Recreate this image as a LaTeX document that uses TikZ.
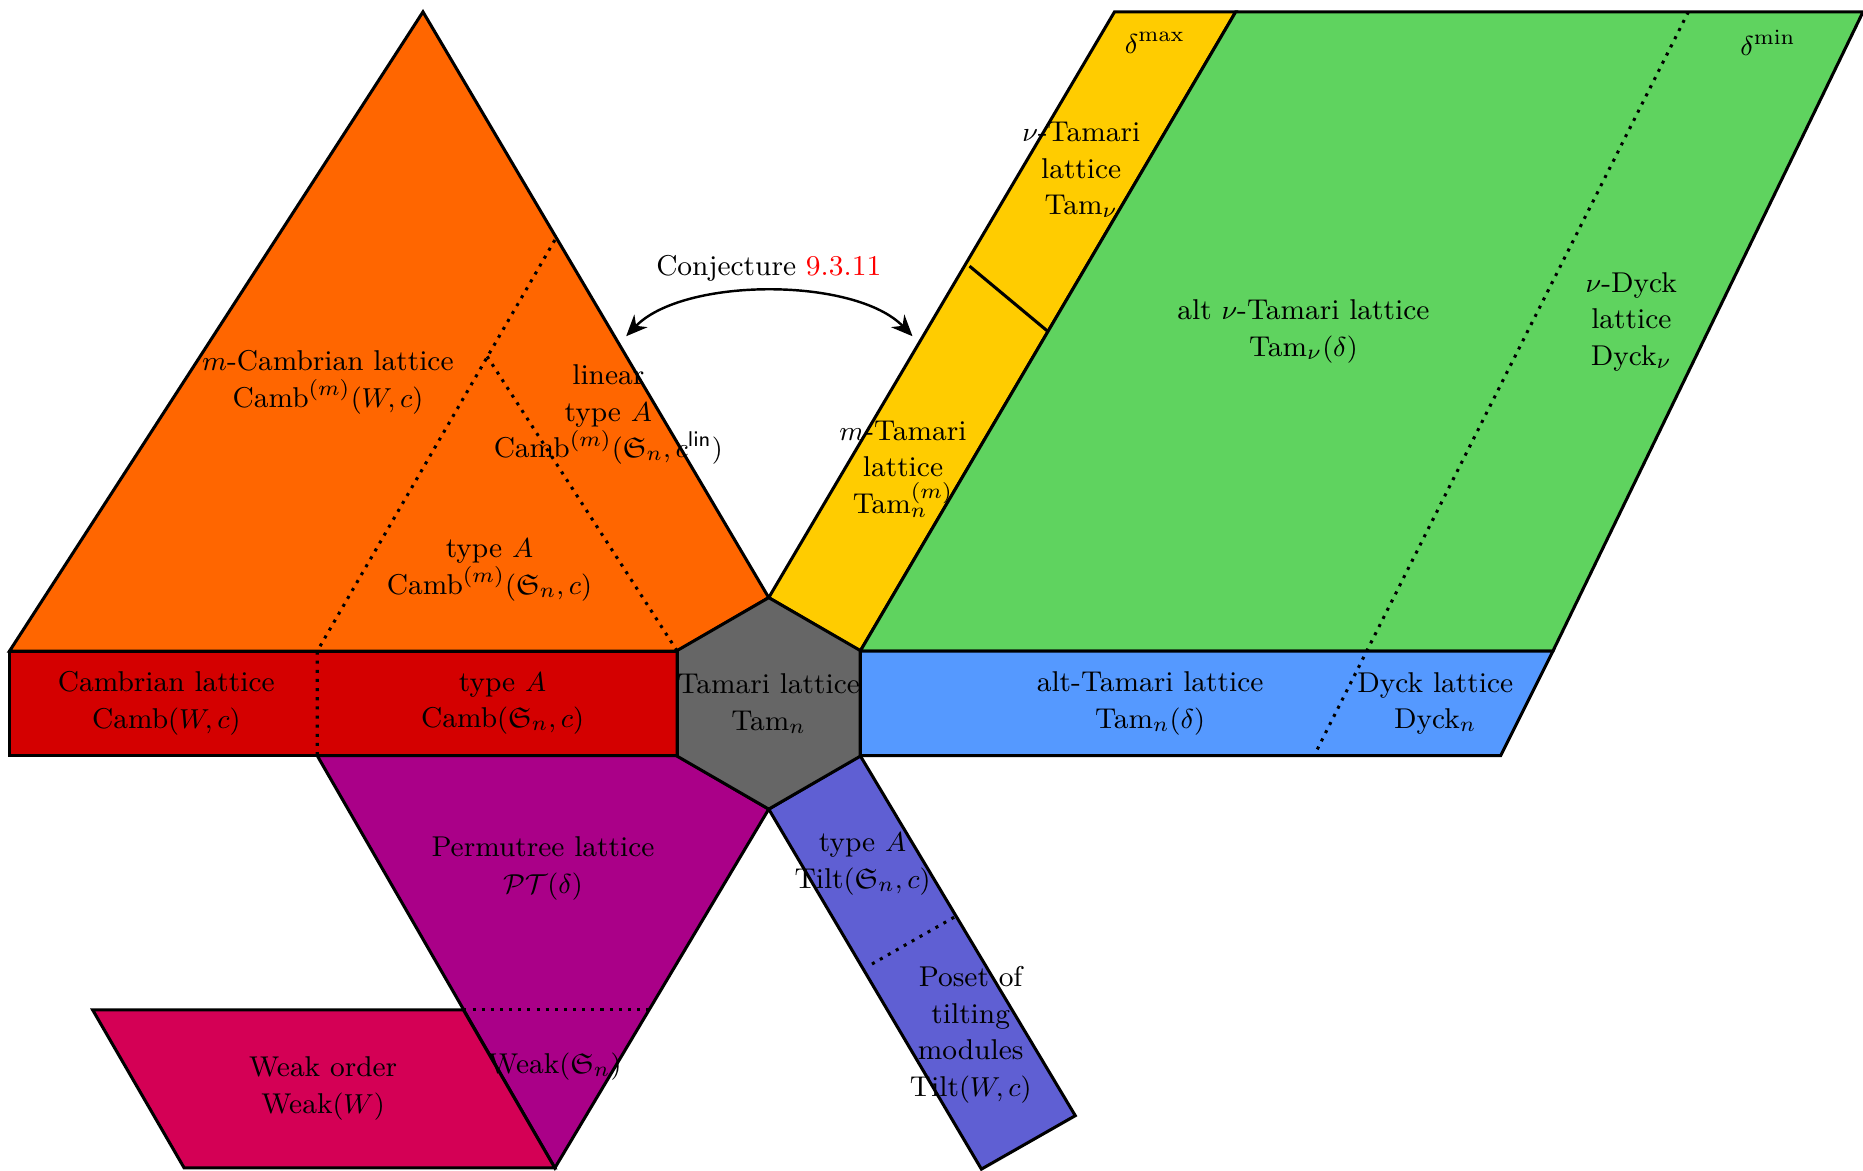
\documentclass[tikz,border=0pt]{standalone}
\usepackage{amssymb}
\usetikzlibrary{arrows.meta}
\definecolor{corange}{HTML}{FF6600}
\definecolor{cred}{HTML}{D40000}
\definecolor{cgray}{HTML}{666666}
\definecolor{cyellow}{HTML}{FFCC00}
\definecolor{cgreen}{HTML}{5FD35F}
\definecolor{cblue}{HTML}{5599FF}
\definecolor{cpurple}{HTML}{AA0088}
\definecolor{cweak}{HTML}{D40055}
\definecolor{ctilt}{HTML}{5F5FD3}
\begin{document}
\begin{tikzpicture}[x=0.39pt,y=-0.39pt,line width=1pt,
  region/.style={draw=black,line width=1pt},
  sep/.style={draw=black,line width=1pt,dotted},
  lbl/.style={align=center,inner sep=0pt,font=\fontsize{9.4pt}{12pt}\selectfont},
  conjarrow/.style={line width=0.8pt,{Stealth[length=7pt,width=6pt]}-{Stealth[length=7pt,width=6pt]}}]
\useasboundingbox (0,0) rectangle (1568,985);
% regions
\filldraw[region,fill=corange] (8,548) -- (356,10) -- (647,503) -- (570,548) -- cycle;
\filldraw[region,fill=cred] (8,548) rectangle (570,636);
\filldraw[region,fill=cpurple] (267,636) -- (570,636) -- (647,681) -- (467,983) -- cycle;
\filldraw[region,fill=cweak] (78,850) -- (390,850) -- (467,983) -- (155,983) -- cycle;
\filldraw[region,fill=ctilt] (647,681) -- (724,636) -- (905,939) -- (826,984) -- cycle;
\filldraw[region,fill=cyellow] (647,503) -- (938,10) -- (1040,10) -- (724,548) -- cycle;
\filldraw[region,fill=cgreen] (724,548) -- (1040,10) -- (1568,10) -- (1307,548) -- cycle;
\filldraw[region,fill=cblue] (724,548) -- (1307,548) -- (1263,636) -- (724,636) -- cycle;
\filldraw[region,fill=cgray] (647,503) -- (724,547.5) -- (724,636.5) -- (647,681) -- (570,636.5) -- (570,547.5) -- cycle;
% separators
\draw[sep] (467,202) -- (267,548) -- (267,636);
\draw[sep] (410,300) -- (570,548);
\draw[sep] (390,850) -- (546,850);
\draw[sep] (803,772) -- (731,813);
\draw[sep] (1421,10) -- (1106,636);
\draw[region] (816,224) -- (882,279);
% labels
\node[lbl] (mcamb) at (276,322) {$m$-Cambrian lattice\\Camb$^{(m)}(W,c)$};
\node[lbl] (lin) at (512,349) {linear\\type $A$\\Camb$^{(m)}(\mathfrak{S}_n,c^{\mathsf{lin}})$};
\node[lbl] (mtypeA) at (412,480) {type $A$\\Camb$^{(m)}(\mathfrak{S}_n,c)$};
\node[lbl] (camb) at (140,592) {Cambrian lattice\\Camb$(W,c)$};
\node[lbl] (cambA) at (423,592) {type $A$\\Camb$(\mathfrak{S}_n,c)$};
\node[lbl] (tam) at (647,592) {Tamari lattice\\Tam$_n$};
\node[lbl] (alttam) at (968,592) {alt-Tamari lattice\\Tam$_n(\delta)$};
\node[lbl] (dyck) at (1208,592) {Dyck lattice\\Dyck$_n$};
\node[lbl] (nutam) at (910,143) {$\nu$-Tamari\\lattice\\Tam$_\nu$};
\node[lbl] (mtam) at (760,395) {$m$-Tamari\\lattice\\Tam$_n^{(m)}$};
\node[lbl] (altnu) at (1097,279) {alt $\nu$-Tamari lattice\\Tam$_\nu(\delta)$};
\node[lbl] (nudyck) at (1373,271) {$\nu$-Dyck\\lattice\\Dyck$_\nu$};
\node[lbl] (dmax) at (972,36) {$\delta^{\max}$};
\node[lbl] (dmin) at (1488,36) {$\delta^{\min}$};
\node[lbl] (conj) at (647,226) {Conjecture \textcolor{red}{9.3.11}};
\node[lbl] (pt) at (457,731) {Permutree lattice\\$\mathcal{PT}(\delta)$};
\node[lbl] (weak) at (272,916) {Weak order\\Weak$(W)$};
\node[lbl] (weakS) at (467,898) {Weak$(\mathfrak{S}_n)$};
\node[lbl] (tiltA) at (726,727) {type $A$\\Tilt$(\mathfrak{S}_n,c)$};
\node[lbl] (tilt) at (817,871) {Poset of\\tilting\\modules\\Tilt$(W,c)$};
% conjecture arrow
\coordinate (cl) at (527,283);
\coordinate (cr) at (768,283);
\draw[conjarrow] (cl) .. controls (575,233) and (720,233) .. (cr);
\end{tikzpicture}
\end{document}
